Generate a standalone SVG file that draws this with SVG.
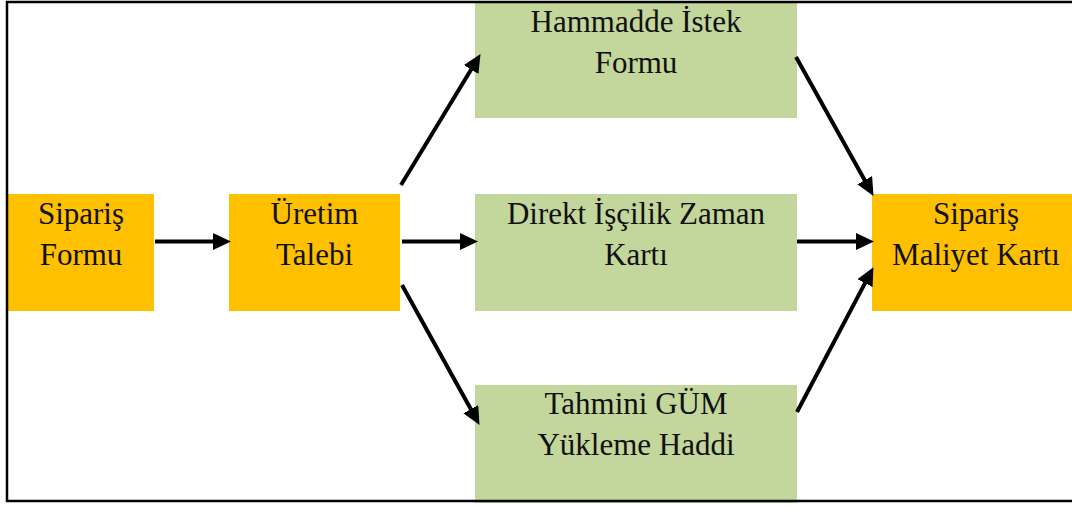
<svg xmlns="http://www.w3.org/2000/svg" width="1072" height="507" viewBox="0 0 1072 507">
  <style>
    .orange { fill: #FFC000; }
    .green { fill: #C3D69B; }
    .lbl { font-size: 31px; fill: #111; text-anchor: middle; }
    .conn { stroke: #000; stroke-width: 4; fill: none; marker-end: url(#arrow); }
  </style>
  <defs>
    <marker id="arrow" markerUnits="userSpaceOnUse" markerWidth="19" markerHeight="18" refX="7" refY="8.5" orient="auto">
      <path d="M0,0 L18,8.5 L0,17 z" fill="#000"/>
    </marker>
  </defs>
  <rect x="0" y="0" width="1072" height="507" fill="#fff"/>

  <g id="siparis-formu" font-family="'Liberation Serif', 'DejaVu Serif', serif">
    <rect class="orange" x="8" y="194" width="146" height="117"/>
    <text class="lbl" x="81" y="224">Sipariş</text>
    <text class="lbl" x="81" y="265">Formu</text>
  </g>
  <g id="uretim-talebi" font-family="'Liberation Serif', 'DejaVu Serif', serif">
    <rect class="orange" x="229" y="194" width="171" height="117"/>
    <text class="lbl" x="314.5" y="224">Üretim</text>
    <text class="lbl" x="314.5" y="265">Talebi</text>
  </g>
  <g id="hammadde" font-family="'Liberation Serif', 'DejaVu Serif', serif">
    <rect class="green" x="475" y="2" width="322" height="116"/>
    <text class="lbl" x="636" y="32">Hammadde İstek</text>
    <text class="lbl" x="636" y="73">Formu</text>
  </g>
  <g id="direkt-iscilik" font-family="'Liberation Serif', 'DejaVu Serif', serif">
    <rect class="green" x="475" y="194" width="322" height="117"/>
    <text class="lbl" x="636" y="224">Direkt İşçilik Zaman</text>
    <text class="lbl" x="636" y="265">Kartı</text>
  </g>
  <g id="tahmini-gum" font-family="'Liberation Serif', 'DejaVu Serif', serif">
    <rect class="green" x="475" y="385" width="322" height="118"/>
    <text class="lbl" x="636" y="414">Tahmini GÜM</text>
    <text class="lbl" x="636" y="455">Yükleme Haddi</text>
  </g>
  <g id="siparis-maliyet" font-family="'Liberation Serif', 'DejaVu Serif', serif">
    <rect class="orange" x="872" y="194" width="210" height="117"/>
    <text class="lbl" x="976" y="224">Sipariş</text>
    <text class="lbl" x="976" y="265">Maliyet Kartı</text>
  </g>

  <g id="connectors">
    <line class="conn" x1="155" y1="241.5" x2="220" y2="241.5"/>
    <line class="conn" x1="402" y1="241.5" x2="467" y2="241.5"/>
    <line class="conn" x1="797" y1="241.5" x2="863" y2="241.5"/>
    <line class="conn" x1="401" y1="185" x2="474.8" y2="63.5"/>
    <line class="conn" x1="796" y1="57" x2="868.1" y2="186.3"/>
    <line class="conn" x1="402" y1="285" x2="474.2" y2="415.3"/>
    <line class="conn" x1="797" y1="412" x2="868.3" y2="276.9"/>
  </g>

  <rect id="frame" x="7" y="2" width="1080" height="499" fill="none" stroke="#000" stroke-width="2.5"/>
</svg>
